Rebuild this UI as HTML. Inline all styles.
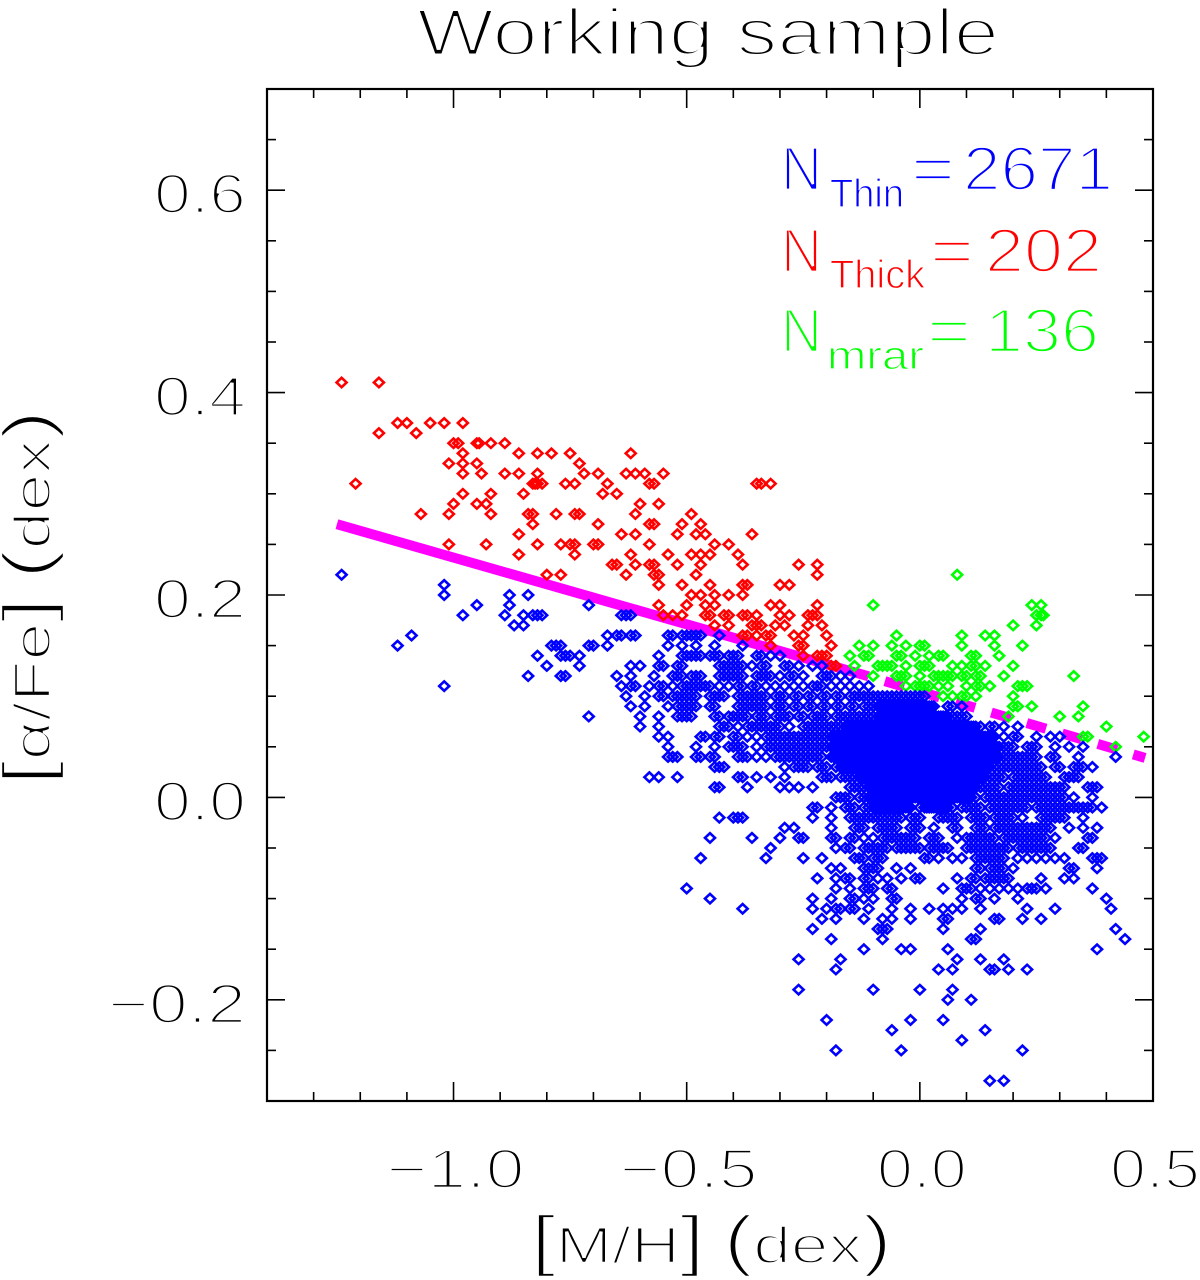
<!DOCTYPE html>
<html lang="en">
<head>
<meta charset="utf-8">
<title>Working sample</title>
<style>
html,body{margin:0;padding:0;background:#fff;}
#chart{display:block;width:1200px;height:1280px;background:#fff;}
text{font-family:"Liberation Sans",sans-serif;stroke:#fff;stroke-width:2.7px;}
text.title{stroke-width:3px;}
text.axis-title{stroke-width:2.4px;}
text.sub{stroke-width:1.2px;}
</style>
</head>
<body>
<svg id="chart" xmlns="http://www.w3.org/2000/svg" width="1200" height="1280" viewBox="0 0 1200 1280">
  <g id="lines"></g>
  <g id="marks"></g>
  <g id="axes"></g>
  <text class="title" x="417" y="55" font-size="66" textLength="582" lengthAdjust="spacingAndGlyphs" fill="#000">Working sample</text>
  <text class="axis-title" x="531" y="1263" font-size="52" textLength="361" lengthAdjust="spacingAndGlyphs" fill="#000"><tspan font-size="68">[</tspan>M/H<tspan font-size="68">]</tspan> <tspan font-size="68">(</tspan>dex<tspan font-size="68">)</tspan></text>
  <text class="axis-title" x="50" y="785" font-size="52" textLength="375" lengthAdjust="spacingAndGlyphs" transform="rotate(-90 50 785)" fill="#000"><tspan font-size="68">[</tspan>α/Fe<tspan font-size="68">]</tspan> <tspan font-size="68">(</tspan>dex<tspan font-size="68">)</tspan></text>
  <g fill="#0000ff">
    <text x="781" y="190" font-size="62" textLength="41" lengthAdjust="spacingAndGlyphs">N</text>
    <text class="sub" x="830" y="207" font-size="40" textLength="74" lengthAdjust="spacingAndGlyphs">Thin</text>
    <text x="911" y="190" font-size="62" textLength="44" lengthAdjust="spacingAndGlyphs">=</text>
    <text x="963" y="190" font-size="62" textLength="150" lengthAdjust="spacingAndGlyphs">2671</text>
  </g>
  <g fill="#ff0000">
    <text x="781" y="272" font-size="62" textLength="41" lengthAdjust="spacingAndGlyphs">N</text>
    <text class="sub" x="830" y="288" font-size="40" textLength="95" lengthAdjust="spacingAndGlyphs">Thick</text>
    <text x="930" y="272" font-size="62" textLength="44" lengthAdjust="spacingAndGlyphs">=</text>
    <text x="985" y="272" font-size="62" textLength="117" lengthAdjust="spacingAndGlyphs">202</text>
  </g>
  <g fill="#00ff00">
    <text x="781" y="352" font-size="62" textLength="41" lengthAdjust="spacingAndGlyphs">N</text>
    <text class="sub" x="827" y="369" font-size="40" textLength="97" lengthAdjust="spacingAndGlyphs">mrar</text>
    <text x="927" y="352" font-size="62" textLength="44" lengthAdjust="spacingAndGlyphs">=</text>
    <text x="985" y="352" font-size="62" textLength="114" lengthAdjust="spacingAndGlyphs">136</text>
  </g>
</svg>
<script>
// Axis definitions
const xMajorTicks = [-1.0, -0.5, 0.0, 0.5];
const xMajorLabels = ["\u22121.0", "\u22120.5", "0.0", "0.5"];
const xMinorTicks = [-1.4, -1.3, -1.2, -1.1, -0.9, -0.8, -0.7, -0.6, -0.4, -0.3, -0.2, -0.1, 0.1, 0.2, 0.3, 0.4];
const yMajorTicks = [-0.2, 0.0, 0.2, 0.4, 0.6];
const yMajorLabels = ["\u22120.2", "0.0", "0.2", "0.4", "0.6"];
const yMinorTicks = [-0.25, -0.15, -0.1, -0.05, 0.05, 0.1, 0.15, 0.25, 0.3, 0.35, 0.45, 0.5, 0.55, 0.65];
const xDomain = [-1.4, 0.5];
const yDomain = [-0.3, 0.7];

// Separation line
const lineSolidMH = [-1.25, -0.11];
const lineSolidAlpha = [0.27, 0.1196];
const lineDashMH = [-0.11, 0.483];
const lineDashAlpha = [0.1196, 0.039];

// Thick disc: alpha levels and the [M/H] values on each level
const thickAlpha = [.41,.37,.36,.35,.34,.33,.32,.31,.30,.29,.28,.27,.26,.25,.24,.23,.22,.21,.20,.19,.18,.17,.16,.15,.14,.13];
const thickMH = [
[-1.24,-1.16],
[-1.12,-1.10,-1.05,-1.02,-.98],
[-1.16,-1.08],
[-1.0,-.99,-.95,-.945,-.92,-.89],
[-.98,-.86,-.82,-.79,-.75,-.62],
[-1.01,-.98,-.95,-.73],
[-.98,-.94,-.89,-.86,-.82,-.72,-.69,-.63,-.61,-.59,-.55],
[-1.21,-.83,-.825,-.82,-.81,-.76,-.74,-.67,-.58,-.57,-.35,-.34,-.32],
[-.98,-.92,-.85,-.68,-.65],
[-1.0,-.95,-.93,-.60,-.56],
[-1.07,-1.01,-.92,-.84,-.83,-.78,-.74,-.73,-.61,-.49],
[-.83,-.69,-.58,-.57,-.51,-.47],
[-.86,-.64,-.61,-.52,-.48,-.46,-.36],
[-1.01,-.93,-.82,-.77,-.75,-.74,-.70,-.69,-.58,-.44,-.41],
[-.86,-.74,-.62,-.54,-.49,-.47,-.45,-.39],
[-.66,-.65,-.61,-.58,-.57,-.52,-.47,-.38,-.26,-.22],
[-.80,-.77,-.63,-.57,-.56,-.48,-.22],
[-.56,-.51,-.45,-.38,-.37,-.30,-.28],
[-.49,-.47,-.44,-.41,-.38],
[-.56,-.50,-.46,-.44,-.32,-.30,-.22],
[-.55,-.53,-.51,-.46,-.45,-.42,-.41,-.38,-.37,-.35,-.30,-.28,-.24,-.23,-.22],
[-.44,-.41,-.36,-.35,-.34,-.31,-.29,-.24,-.21],
[-.38,-.37,-.35,-.33,-.32,-.27,-.25,-.20],
[-.32,-.26,-.25,-.19],
[-.25,-.22,-.21,-.20],
[-.19,-.18]
];

// Metal-rich alpha-rich group
const mrarAlpha = [.22,.19,.18,.17,.16,.15,.14,.13,.12,.11,.10,.09,.08,.07,.06,.05];
const mrarMH = [
[.08],
[-.10,.24,.26],
[.25,.26,.265],
[.20,.25],
[-.05,.09,.14,.16],
[-.13,-.10,-.06,-.03,0,.01,.09,.16,.22],
[-.15,-.12,-.11,-.05,-.04,-.01,.02,.04,.05,.11,.12,.17],
[-.14,-.09,-.08,-.07,-.06,-.03,0,.01,.02,.07,.09,.11,.12,.14,.20],
[-.10,-.05,-.04,-.03,0,.03,.04,.05,.06,.07,.09,.10,.12,.13,.18,.33],
[-.03,-.01,0,.01,.02,.04,.06,.10,.12,.13,.15,.21,.22,.23],
[.05,.07,.09,.10,.12,.20],
[.20,.21,.24,.35],
[.19,.30,.34],
[.40],
[.35,.36,.48],
[.42]
];

// Thin disc
const thinAlpha = [.22,.21,.20,.19,.18,.17,.16,.15,.14,.13,.12,.11,.10,.09,.08,.07,.06,.05,.04,.03,.02,.01,.00,-.01,-.02,-.03,-.04,-.05,-.06,-.07,-.08,-.09,-.10,-.11,-.12,-.13,-.14,-.15,-.16,-.17,-.19,-.20,-.22,-.23,-.24,-.25,-.28];
const thinMH = [
[-1.24],
[-1.02],
[-1.02,-.88,-.84],
[-.95,-.88,-.71],
[-.98,-.89,-.85,-.83,-.82,-.81,-.64,-.63,-.62],
[-.87,-.85],
[-1.09,-.67,-.65,-.64,-.62,-.61,-.54,-.53,-.51,-.50,-.49,-.48,-.47,-.43],
[-1.12,-.79,-.78,-.77,-.71,-.70,-.67,-.54,-.51,-.48,-.44,-.38],
[-.82,-.77,-.76,-.75,-.73,-.56,-.51,-.50,-.49,-.48,-.47,-.45,-.44,-.43,-.41,-.40,-.39,-.35,-.34,-.32,-.30],
[-.80,-.73,-.62,-.60,-.56,-.55,-.52,-.51,-.43,-.42,-.41,-.40,-.39,-.38,-.36,-.34,-.33,-.29,-.28,-.26,-.23,-.21],
[-.84,-.77,-.76,-.65,-.62,-.57,-.53,-.52,-.51,-.49,-.48,-.47,-.43,-.42,-.41,-.40,-.39,-.38,-.35,-.34,-.33,-.32,-.30,-.28,-.27,-.25,-.21,-.20,-.19,-.17,-.15],
[-1.02,-.64,-.62,-.61,-.58,-.56,-.55,-.53,-.51,-.50,-.49,-.48,-.47,-.46,-.45,-.43,-.41,-.39,-.38,-.36,-.35,-.33,-.31,-.29,-.27,-.25,-.23,-.22,-.21,-.19,-.17,-.15,-.13,-.11],
[-.63,-.59,-.56,-.55,-.53,-.52,-.51,-.50,-.49,-.48,-.45,-.44,-.43,-.42,-.39,-.38,-.37,-.36,-.35,-.34,-.33,-.31,-.30,-.29,-.27,-.26,-.24,-.23,-.21,-.20,-.18,-.17,-.15,-.14,-.13,-.12,-.11,-.10,-.09,-.08,-.07,-.06,-.05,-.04,-.03,-.02,-.01,0,.01],
[-.62,-.59,-.54,-.52,-.51,-.50,-.49,-.48,-.45,-.44,-.39,-.38,-.37,-.36,-.35,-.34,-.33,-.31,-.30,-.29,-.27,-.26,-.24,-.23,-.21,-.20,-.18,-.17,-.15,-.14,-.12,-.11,-.10,-.09,-.08,-.07,-.06,-.05,-.04,-.03,-.02,0,.01,.02,.03,.06,.07,.09],
[-.71,-.60,-.56,-.52,-.51,-.50,-.49,-.44,-.43,-.41,-.40,-.39,-.38,-.37,-.35,-.34,-.33,-.31,-.30,-.29,-.28,-.26,-.25,-.23,-.22,-.21,-.20,-.18,-.17,-.16,-.15,-.14,-.13,-.12,-.11,-.10,-.09,-.08,-.07,-.06,-.05,-.04,-.03,-.02,-.01,0,.01,.02,.03,.04,.05,.06,.07,.08,.09,.10],
[-.60,-.56,-.43,-.42,-.41,-.39,-.37,-.36,-.35,-.34,-.33,-.32,-.31,-.30,-.28,-.25,-.24,-.23,-.22,-.21,-.20,-.19,-.18,-.17,-.16,-.15,-.14,-.13,-.12,-.11,-.10,-.09,-.08,-.07,-.06,-.05,-.04,-.03,-.02,-.01,0,.01,.02,.03,.04,.05,.06,.07,.08,.09,.10,.11,.12,.13,.15,.16,.18,.21],
[-.56,-.54,-.47,-.46,-.44,-.43,-.40,-.39,-.37,-.35,-.33,-.32,-.31,-.30,-.29,-.28,-.27,-.26,-.25,-.24,-.23,-.22,-.21,-.20,-.19,-.18,-.17,-.16,-.15,-.14,-.13,-.12,-.11,-.10,-.09,-.08,-.07,-.06,-.05,-.04,-.03,-.02,-.01,0,.01,.02,.03,.04,.05,.06,.07,.08,.09,.10,.11,.12,.13,.14,.15,.16,.18,.20,.21,.25,.28,.30],
[-.54,-.48,-.44,-.41,-.40,-.39,-.38,-.35,-.33,-.32,-.31,-.30,-.29,-.28,-.27,-.26,-.25,-.24,-.23,-.22,-.21,-.20,-.19,-.18,-.17,-.16,-.15,-.14,-.13,-.12,-.11,-.10,-.09,-.08,-.07,-.06,-.05,-.04,-.03,-.02,-.01,0,.01,.02,.03,.04,.05,.06,.07,.08,.09,.10,.11,.12,.13,.14,.15,.16,.17,.18,.19,.20,.23,.24,.25,.29,.32,.35],
[-.54,-.53,-.52,-.48,-.47,-.45,-.44,-.39,-.38,-.37,-.35,-.33,-.31,-.30,-.29,-.28,-.27,-.26,-.25,-.24,-.23,-.22,-.21,-.19,-.18,-.17,-.16,-.15,-.14,-.13,-.12,-.11,-.10,-.09,-.08,-.07,-.06,-.05,-.04,-.03,-.02,-.01,0,.01,.02,.03,.04,.05,.06,.07,.08,.09,.10,.11,.12,.13,.14,.15,.16,.17,.18,.19,.20,.21,.22,.23,.24,.25,.28,.29,.34,.42],
[-.44,-.43,-.42,-.29,-.27,-.26,-.25,-.24,-.22,-.21,-.20,-.18,-.17,-.16,-.15,-.14,-.13,-.12,-.11,-.10,-.09,-.08,-.07,-.06,-.05,-.04,-.03,-.02,-.01,0,.01,.02,.03,.04,.05,.06,.07,.08,.09,.10,.11,.12,.13,.14,.15,.16,.17,.18,.19,.20,.21,.22,.23,.24,.25,.26,.29,.30,.33,.34,.35,.37],
[-.58,-.56,-.52,-.39,-.38,-.35,-.32,-.29,-.21,-.20,-.19,-.17,-.16,-.15,-.14,-.13,-.12,-.11,-.10,-.09,-.08,-.07,-.06,-.05,-.04,-.03,-.02,-.01,0,.01,.02,.03,.04,.05,.06,.07,.08,.09,.10,.11,.12,.13,.14,.15,.16,.17,.18,.20,.21,.22,.23,.24,.25,.26,.27,.31,.32,.33,.34],
[-.44,-.43,-.37,-.30,-.28,-.26,-.23,-.15,-.14,-.13,-.12,-.11,-.10,-.09,-.08,-.07,-.06,-.05,-.04,-.03,-.02,-.01,0,.01,.02,.03,.04,.05,.06,.07,.08,.09,.10,.11,.12,.13,.14,.15,.16,.17,.19,.20,.21,.22,.23,.24,.25,.26,.27,.28,.29,.30,.31,.36,.37,.38],
[-.18,-.17,-.16,-.15,-.13,-.12,-.11,-.10,-.09,-.08,-.07,-.06,-.05,-.04,-.03,-.02,-.01,0,.01,.02,.03,.04,.05,.06,.07,.08,.09,.10,.11,.12,.14,.15,.16,.17,.18,.19,.20,.21,.22,.23,.24,.25,.26,.27,.28,.29,.30,.31,.33,.37],
[-.23,-.22,-.19,-.16,-.15,-.14,-.12,-.11,-.10,-.09,-.08,-.07,-.06,-.05,-.04,-.03,-.02,0,.01,.02,.03,.04,.05,.06,.07,.09,.10,.11,.12,.13,.15,.16,.17,.18,.19,.20,.21,.22,.23,.25,.26,.27,.28,.29,.30,.31,.32,.33,.34,.35,.36,.37,.39],
[-.43,-.40,-.39,-.38,-.23,-.19,-.15,-.14,-.13,-.12,-.11,-.10,-.09,-.08,-.07,-.06,-.05,-.04,-.02,-.01,0,.04,.05,.06,.07,.08,.11,.12,.13,.14,.16,.17,.18,.19,.20,.22,.26,.27,.28,.29,.30,.31,.35],
[-.29,-.27,-.19,-.14,-.13,-.12,-.09,-.08,-.07,-.06,-.05,-.02,-.01,0,.03,.07,.08,.12,.13,.14,.16,.17,.18,.19,.20,.21,.22,.23,.24,.25,.26,.27,.28,.32,.35,.38],
[-.45,-.36,-.30,-.26,-.25,-.19,-.18,-.15,-.14,-.12,-.10,-.08,-.07,-.06,-.05,-.04,-.03,-.02,-.01,.02,.03,.04,.08,.10,.11,.12,.13,.14,.15,.16,.18,.19,.20,.21,.22,.23,.24,.25,.26,.27,.29,.36,.37],
[-.32,-.18,-.16,-.15,-.12,-.11,-.10,-.09,-.08,-.07,-.05,-.04,-.03,-.02,-.01,0,.02,.03,.04,.05,.06,.10,.11,.12,.13,.14,.15,.16,.17,.18,.19,.21,.22,.23,.24,.25,.26,.27,.28,.34,.35],
[-.47,-.33,-.25,-.21,-.14,-.13,-.12,-.10,-.09,-.08,.01,.02,.04,.07,.09,.12,.13,.14,.15,.16,.17,.18,.21,.23,.25,.27,.29,.31,.37,.38,.39],
[-.19,-.17,-.12,-.11,-.10,-.09,-.05,-.02,.12,.13,.15,.16,.17,.18,.20,.32,.33,.38],
[-.22,-.18,-.16,-.15,-.12,-.11,-.09,-.07,-.04,-.01,0,.08,.11,.12,.14,.15,.16,.17,.18,.19,.26,.31,.33],
[-.50,-.18,-.15,-.12,-.11,-.10,-.07,-.06,.05,.09,.10,.11,.13,.15,.17,.19,.21,.23,.24,.25,.27,.37],
[-.45,-.23,-.19,-.15,-.14,-.12,-.10,-.06,-.05,.09,.12,.13,.16,.21,.40],
[-.38,-.23,-.20,-.18,-.17,-.15,-.14,-.11,-.06,-.02,.02,.05,.07,.09,.13,.23,.29,.41],
[-.21,-.18,-.12,-.08,-.06,-.02,.05,.06,.16,.17,.22,.26],
[-.23,-.09,-.08,-.07,.05,.13,.42],
[-.19,-.08,.11,.12,.44],
[-.12,-.04,-.02,.06,.38],
[-.26,-.17,.08,.13,.18],
[-.18,.04,.07,.15,.16,.19,.23],
[-.26,-.10,0,.07],
[.06,.11],
[-.20,-.02,.05],
[-.06,.14],
[.09],
[-.18,-.04,.22],
[.15,.18]
];

// Thin disc, densest core: stars falling between the 0.01 columns
const thinCoreAlpha = [.09,.08,.07,.06,.05,.04,.03,.02,.01,.00,-.01];
const thinCoreMH = [
[-.085,-.075,-.065,-.055,-.045,-.035,-.025,-.015,-.005,.005,.015,.025],
[-.085,-.075,-.065,-.055,-.045,-.035,-.025,-.015,-.005,.005,.015,.025,.035,.045,.055],
[-.155,-.145,-.135,-.125,-.115,-.105,-.095,-.085,-.075,-.065,-.055,-.045,-.035,-.025,-.015,-.005,.005,.015,.025,.035,.045,.055,.065,.075,.085,.095,.105,.115],
[-.185,-.175,-.165,-.155,-.145,-.135,-.125,-.115,-.105,-.095,-.085,-.075,-.065,-.055,-.045,-.035,-.025,-.015,-.005,.005,.015,.025,.035,.045,.055,.065,.075,.085,.095,.105,.115,.125,.135,.145,.155],
[-.185,-.175,-.165,-.155,-.145,-.135,-.125,-.115,-.105,-.095,-.085,-.075,-.065,-.055,-.045,-.035,-.025,-.015,-.005,.005,.015,.025,.035,.045,.055,.065,.075,.085,.095,.105,.115,.125,.135,.145,.155,.165],
[-.185,-.175,-.165,-.155,-.145,-.135,-.125,-.115,-.105,-.095,-.085,-.075,-.065,-.055,-.045,-.035,-.025,-.015,-.005,.005,.015,.025,.035,.045,.055,.065,.075,.085,.095,.105,.115,.125,.135,.145,.155,.165],
[-.165,-.155,-.145,-.135,-.125,-.115,-.105,-.095,-.085,-.075,-.065,-.055,-.045,-.035,-.025,-.015,-.005,.005,.015,.025,.035,.045,.055,.065,.075,.085,.095,.105,.115,.125,.135,.145],
[-.125,-.115,-.105,-.095,-.085,-.075,-.065,-.055,-.045,-.035,-.025,-.015,-.005,.005,.015,.025,.035,.045,.055,.065,.075,.085,.095,.105,.115,.125,.135],
[-.105,-.095,-.085,-.075,-.065,-.055,-.045,-.035,-.025,-.015,-.005,.005,.015,.025,.035,.045,.055,.065,.075,.085,.095,.105,.115],
[-.105,-.095,-.085,-.075,-.065,-.055,-.045,-.035,-.025,-.015,-.005,.005,.015,.025,.035,.045,.055,.065,.075,.085,.095,.105],
[-.095,-.085,-.075,-.065,-.055,-.045,-.035,-.025,.015,.025,.035,.045,.055]
];

const SVGNS = "http://www.w3.org/2000/svg";
const plotLeft = 267, plotRight = 1153, plotTop = 89, plotBottom = 1101;
function xScale(v) { return plotLeft + (v - xDomain[0]) / (xDomain[1] - xDomain[0]) * (plotRight - plotLeft); }
function yScale(v) { return plotBottom - (v - yDomain[0]) / (yDomain[1] - yDomain[0]) * (plotBottom - plotTop); }
function make(tag, attrs, parent) {
  const el = document.createElementNS(SVGNS, tag);
  for (const k in attrs) el.setAttribute(k, attrs[k]);
  parent.appendChild(el);
  return el;
}

// Separation line
const lines = document.getElementById("lines");
const solid = make("line", {x1: xScale(lineSolidMH[0]), y1: yScale(lineSolidAlpha[0]), x2: xScale(lineSolidMH[1]), y2: yScale(lineSolidAlpha[1]), stroke: "#ff00ff", "stroke-width": 10}, lines);


const dashed = make("line", {x1: xScale(lineDashMH[0]), y1: yScale(lineDashAlpha[0]), x2: xScale(lineDashMH[1]), y2: yScale(lineDashAlpha[1]), stroke: "#ff00ff", "stroke-width": 10, "stroke-dasharray": "20 17", "stroke-dashoffset": 20}, lines);



// Markers
const marks = document.getElementById("marks");
function drawSeries(levels, rows, colour, groupName) {
  const g = make("g", {fill: "none", stroke: colour, "stroke-width": 2.6}, marks);
  
  
  levels.forEach(function (a, i) {
    rows[i].forEach(function (m) {
      const px = xScale(m), py = yScale(a), rx = 5.0, ry = 4.7;
      const p = make("polygon", {points: (px - rx) + "," + py + " " + px + "," + (py - ry) + " " + (px + rx) + "," + py + " " + px + "," + (py + ry)}, g);
      
      
    });
  });
}
drawSeries(thickAlpha, thickMH, "#ff0000", "thick-disc-series");
drawSeries(mrarAlpha, mrarMH, "#00ff00", "mrar-series");
drawSeries(thinAlpha, thinMH, "#0000ff", "thin-disc-series");
drawSeries(thinCoreAlpha, thinCoreMH, "#0000ff", "thin-disc-core-series");

// Axes
const axes = document.getElementById("axes");
const box = make("rect", {x: plotLeft, y: plotTop, width: plotRight - plotLeft, height: plotBottom - plotTop, fill: "none", stroke: "#000", "stroke-width": 2.2}, axes);


function xTick(v, len, name) {
  const b = make("line", {x1: xScale(v), x2: xScale(v), y1: plotBottom, y2: plotBottom - len, stroke: "#000", "stroke-width": 1.6}, axes);
  
  
  const t = make("line", {x1: xScale(v), x2: xScale(v), y1: plotTop, y2: plotTop + len, stroke: "#000", "stroke-width": 1.6}, axes);
  
  
}
function yTick(v, len, name) {
  const l = make("line", {x1: plotLeft, x2: plotLeft + len, y1: yScale(v), y2: yScale(v), stroke: "#000", "stroke-width": 1.6}, axes);
  
  
  const r = make("line", {x1: plotRight, x2: plotRight - len, y1: yScale(v), y2: yScale(v), stroke: "#000", "stroke-width": 1.6}, axes);
  
  
}
xMinorTicks.forEach(function (v) { xTick(v, 9, 'x-minor-tick'); });
xMajorTicks.forEach(function (v) { xTick(v, 19, 'x-major-tick'); });
yMinorTicks.forEach(function (v) { yTick(v, 9, 'y-minor-tick'); });
yMajorTicks.forEach(function (v) { yTick(v, 18, 'y-major-tick'); });

xMajorTicks.forEach(function (v, i) {
  const label = xMajorLabels[i];
  const t = make("text", {x: xScale(v) + 2, y: 1188, "font-size": 56, "text-anchor": "middle", fill: "#000", textLength: label.length > 3 ? 138 : 90, lengthAdjust: "spacingAndGlyphs"}, axes);
  t.textContent = label;
  
  
});
yMajorTicks.forEach(function (v, i) {
  const label = yMajorLabels[i];
  const t = make("text", {x: 246, y: yScale(v) + 23, "font-size": 56, "text-anchor": "end", fill: "#000", textLength: label.length > 3 ? 138 : 92, lengthAdjust: "spacingAndGlyphs"}, axes);
  t.textContent = label;
  
  
});
</script>
</body>
</html>
